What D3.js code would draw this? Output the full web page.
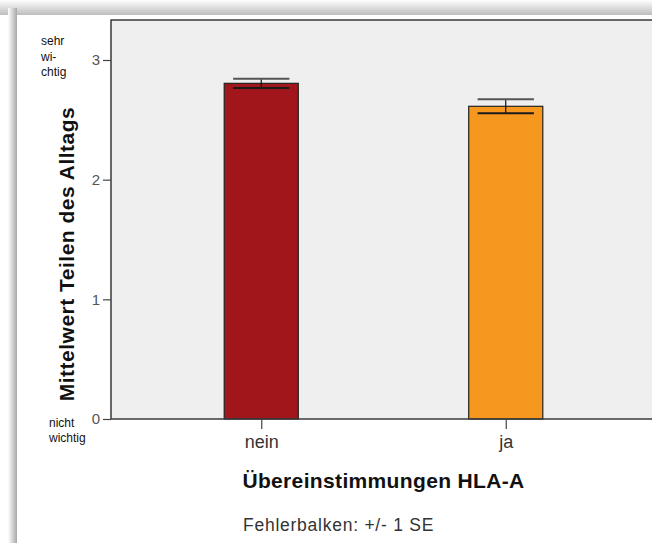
<!DOCTYPE html>
<html>
<head>
<meta charset="utf-8">
<script src="https://d3js.org/d3.v7.min.js"></script>
<style>
  body { margin: 0; background: #fff; }
  text { font-family: "Liberation Sans", Arial, sans-serif; }
</style>
</head>
<body>
<div id="my_dataviz"></div>
<script>
    // chart data
    const categories = ["nein", "ja"]
    const means = [2.805, 2.613]
    const se = [0.038, 0.058]
    const barColors = ["#a0161b", "#f7981e"]
    const yTicks = [0, 1, 2, 3]

    var width = 652, height = 543

    // plot frame (runs past the right edge, as in the reference)
    var plot = { left: 111, top: 20, right: 656, bottom: 419 }

    var svg = d3.select("#my_dataviz").append("svg")
        .attr("width", width)
        .attr("height", height)

    // card shadow
    var defs = svg.append("defs")
    var gTop = defs.append("linearGradient").attr("id", "shTop").attr("x1", 0).attr("y1", 0).attr("x2", 0).attr("y2", 1)
    gTop.append("stop").attr("offset", "0%").attr("stop-color", "#ffffff")
    gTop.append("stop").attr("offset", "100%").attr("stop-color", "#bdbdbd")
    var gLeft = defs.append("linearGradient").attr("id", "shLeft").attr("x1", 0).attr("y1", 0).attr("x2", 1).attr("y2", 0)
    gLeft.append("stop").attr("offset", "0%").attr("stop-color", "#ffffff")
    gLeft.append("stop").attr("offset", "100%").attr("stop-color", "#a8a8a8")

    svg.append("rect").attr("x", 0).attr("y", 0).attr("width", width).attr("height", 15).attr("fill", "url(#shTop)")
    svg.append("rect").attr("x", 8).attr("y", 8).attr("width", 9).attr("height", height).attr("fill", "url(#shLeft)")
    svg.append("rect").attr("x", 17).attr("y", 15).attr("width", width).attr("height", height).attr("fill", "#fff")

    var y = d3.scaleLinear()
        .domain([0, 3])
        .range([plot.bottom, 60])

    var x = d3.scalePoint()
        .domain(categories)
        .range([plot.left, plot.right])
        .padding(0.6145)

    var barW = x.step() * 0.303
    var capW = barW * 0.76

    // plot background
    svg.append("rect")
        .attr("x", plot.left).attr("y", plot.top)
        .attr("width", plot.right - plot.left).attr("height", plot.bottom - plot.top)
        .attr("fill", "#efefef")
    svg.append("path")
        .attr("d", "M" + plot.right + "," + plot.top + "H" + plot.left + "V" + plot.bottom)
        .attr("fill", "none").attr("stroke", "#3a3a3a").attr("stroke-width", 1.5)

    // bars
    svg.append("g").selectAll("rect")
        .data(categories)
        .enter().append("rect")
        .attr("x", d => x(d) - barW / 2)
        .attr("y", (d, i) => y(means[i]))
        .attr("width", barW)
        .attr("height", (d, i) => y(0) - y(means[i]))
        .attr("fill", (d, i) => barColors[i])
        .attr("stroke", "#222")
        .attr("stroke-width", 1.2)

    // error bars
    var err = svg.append("g").selectAll("g")
        .data(categories)
        .enter().append("g")
        .attr("stroke", "#111")
    err.append("line")
        .attr("x1", d => x(d)).attr("x2", d => x(d))
        .attr("y1", (d, i) => y(means[i] + se[i]))
        .attr("y2", (d, i) => y(means[i] - se[i]))
        .attr("stroke-width", 1.2)
    err.append("line")
        .attr("x1", d => x(d) - capW / 2).attr("x2", d => x(d) + capW / 2)
        .attr("y1", (d, i) => y(means[i] + se[i]))
        .attr("y2", (d, i) => y(means[i] + se[i]))
        .attr("stroke", "#555").attr("stroke-width", 2)
    err.append("line")
        .attr("x1", d => x(d) - capW / 2).attr("x2", d => x(d) + capW / 2)
        .attr("y1", (d, i) => y(means[i] - se[i]))
        .attr("y2", (d, i) => y(means[i] - se[i]))
        .attr("stroke", "#1a1a1a").attr("stroke-width", 2)

    // bottom axis line
    svg.append("line")
        .attr("x1", plot.left).attr("x2", plot.right)
        .attr("y1", plot.bottom).attr("y2", plot.bottom)
        .attr("stroke", "#3a3a3a").attr("stroke-width", 1.5)

    // y axis
    var yAxis = svg.append("g")
        .attr("transform", "translate(" + plot.left + ",0)")
        .call(d3.axisLeft(y).tickValues(yTicks).tickSize(8).tickPadding(3).tickFormat(d3.format("d")))
    yAxis.select(".domain").remove()
    yAxis.selectAll("line").attr("stroke", "#444").attr("stroke-width", 1.2)
    yAxis.selectAll("text").attr("font-size", 15).attr("fill", "#555")
        .attr("font-family", "'Liberation Sans Narrow', 'Liberation Sans', Arial, sans-serif")

    // x axis
    var xAxis = svg.append("g")
        .attr("transform", "translate(0," + plot.bottom + ")")
        .call(d3.axisBottom(x).tickSize(10).tickPadding(6))
    xAxis.select(".domain").remove()
    xAxis.selectAll("line").attr("stroke", "#444").attr("stroke-width", 1.2)
    xAxis.selectAll("text").attr("font-size", 18).attr("fill", "#333")

    // axis end labels
    svg.append("text").attr("x", 41).attr("y", 45).attr("font-size", 12).attr("fill", "#111")
        .selectAll("tspan").data(["sehr", "wi-", "chtig"]).enter().append("tspan")
        .attr("x", 41).attr("dy", (d, i) => i ? 15.5 : 0).text(d => d)
    svg.append("text").attr("x", 49).attr("y", 427).attr("font-size", 12).attr("fill", "#111")
        .selectAll("tspan").data(["nicht", "wichtig"]).enter().append("tspan")
        .attr("x", 49).attr("dy", (d, i) => i ? 15 : 0).text(d => d)

    // titles
    svg.append("text")
        .attr("transform", "translate(74,254)rotate(-90)")
        .attr("text-anchor", "middle")
        .attr("font-size", 21).attr("font-weight", "bold").attr("fill", "#111")
        .attr("letter-spacing", 0.5)
        .text("Mittelwert Teilen des Alltags")

    svg.append("text")
        .attr("x", (plot.left + plot.right) / 2).attr("y", 488)
        .attr("text-anchor", "middle")
        .attr("font-size", 21).attr("font-weight", "bold").attr("fill", "#111")
        .attr("letter-spacing", 0.35)
        .text("Übereinstimmungen HLA-A")

    svg.append("text")
        .attr("x", 243).attr("y", 531)
        .attr("font-size", 17.5).attr("fill", "#333")
        .attr("letter-spacing", 0.75)
        .text("Fehlerbalken: +/- 1 SE")
</script>
</body>
</html>
